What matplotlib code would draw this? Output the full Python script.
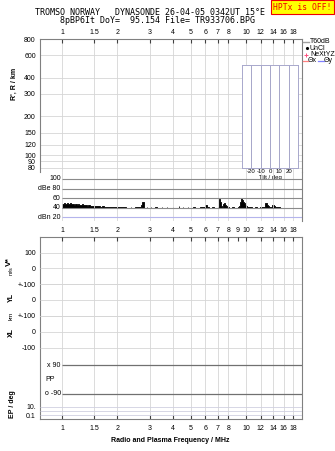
import matplotlib
matplotlib.use('Agg')
import matplotlib.pyplot as plt
from matplotlib.lines import Line2D
from matplotlib.ticker import NullLocator

plt.rcParams['font.family'] = ['Liberation Sans', 'DejaVu Sans']

# --- data -------------------------------------------------------------
title_1 = "TROMSO NORWAY   DYNASONDE 26-04-05 0342UT 15°E"
title_2 = "8pBP6It DoY=  95.154 File= TR933706.BPG"

freq_ticks = [1, 1.5, 2, 3, 4, 5, 6, 7, 8, 10, 12, 14, 16, 18]
freq_ticks_mid = [1, 1.5, 2, 3, 4, 5, 6, 7, 8, 9, 10, 12, 14, 16, 18]
range_ticks = [800, 600, 400, 300, 200, 150, 120, 100, 90, 80]
db_lines = [100, 80, 60, 40]
db_labels = ['100', 'dBe 80', '60', '40']
tilt_ticks = [-20, -10, 0, 10, 20]

noise_freq = [1.00, 1.02, 1.04, 1.06, 1.08, 1.10, 1.12, 1.14, 1.16, 1.18,
              1.20, 1.22, 1.24, 1.26, 1.28, 1.30, 1.33, 1.36, 1.39, 1.42,
              1.45, 1.48, 1.51, 1.55, 1.60, 1.65, 1.70, 1.75, 1.80, 1.85,
              1.90, 1.95, 2.00, 2.06, 2.12, 2.18, 2.24, 2.30, 2.36, 2.42,
              2.48, 2.55, 2.62, 2.68, 2.72, 2.78, 2.82, 2.90, 3.00, 3.06,
              3.12, 3.20, 3.30, 3.40, 3.50, 3.60, 3.70, 3.85, 4.00, 4.15,
              4.30, 4.40, 4.55, 4.70, 4.85, 5.00, 5.15, 5.30, 5.45, 5.60,
              5.75, 5.90, 6.00, 6.10, 6.25, 6.40, 6.55, 6.70, 6.85, 7.00,
              7.10, 7.20, 7.30, 7.40, 7.50, 7.60, 7.70, 7.80, 7.90, 8.05,
              8.20, 8.40, 8.60, 8.80, 9.00, 9.15, 9.25, 9.35, 9.45, 9.55,
              9.65, 9.75, 9.85, 9.95, 10.1, 10.3, 10.5, 10.7, 10.9, 11.1,
              11.3, 11.5, 11.7, 11.9, 12.1, 12.3, 12.5, 12.7, 12.9, 13.1,
              13.3, 13.5, 13.7, 13.9, 14.1, 14.3, 14.5, 14.7, 14.9, 15.1,
              15.3]
noise_db = [48, 49, 47, 50, 48, 49, 47, 48, 46, 47,
            46, 47, 45, 46, 48, 45, 46, 44, 45, 44,
            43, 44, 43, 43, 42, 43, 42, 42, 42, 42,
            42, 41, 42, 41, 42, 41, 42, 40, 41, 40,
            41, 42, 41, 45, 51, 41, 40, 41, 40, 41,
            40, 42, 41, 40, 41, 40, 41, 40, 41, 40,
            43, 40, 41, 40, 41, 40, 41, 41, 40, 41,
            41, 42, 45, 42, 41, 40, 41, 42, 40, 42,
            58, 52, 44, 42, 48, 50, 46, 43, 41, 42,
            40, 41, 41, 40, 42, 44, 52, 60, 59, 56,
            53, 50, 46, 44, 42, 41, 42, 41, 40, 41,
            42, 41, 40, 41, 42, 41, 42, 49, 46, 43,
            41, 42, 41, 45, 43, 42, 41, 42, 41, 41,
            41]

v_ticks = [100, 0, -100]
v_labels = ['100', '0', '']
yl_labels = ['+-100', '0', '+-100']
xl_labels = ['', '0', '-100']
pp_lines = [90, -90]
pp_labels = ['x 90', 'o -90']
ep_ticks = [10, 0.1]
ep_labels = ['10.', '0.1']

# --- layout helpers (pixel boxes) -------------------------------------
W, H = 335, 451
fs = 5
grid_c = '#d6d6d6'
frame_c = '#808080'


def box(x0, y0, x1, y1):
    return [x0 / W, 1 - y1 / H, (x1 - x0) / W, (y1 - y0) / H]


def fxy(x, y):
    return x / W, 1 - y / H


def freq_axis(ax):
    ax.set_xscale('log')
    ax.set_xlim(0.76, 20.1)
    ax.xaxis.set_minor_locator(NullLocator())


def bare(ax):
    ax.patch.set_visible(False)
    for s in ax.spines.values():
        s.set_visible(False)


fig = plt.figure(figsize=(W / 100, H / 100), dpi=100)

fig.text(*fxy(35, 12.5), title_1, family='DejaVu Sans Mono', fontsize=6,
         ha='left', va='center')
fig.text(*fxy(60, 20.5), title_2, family='DejaVu Sans Mono', fontsize=6,
         ha='left', va='center')
fig.text(*fxy(302.5, 7), "HPTx is OFF!", family='DejaVu Sans Mono',
         fontsize=5.8, color='#ee0000', ha='center', va='center',
         bbox=dict(boxstyle='square,pad=0.25', fc='#ffff00', ec='#ee0000',
                   lw=0.8))

# --- top panel: range ---------------------------------------------------
axr = fig.add_axes(box(40, 39, 302, 172))
freq_axis(axr)
axr.set_yscale('log')
axr.set_ylim(74, 800)
axr.set_yticks(range_ticks, [str(v) for v in range_ticks])
axr.yaxis.set_minor_locator(NullLocator())
axr.tick_params(axis='y', length=0, labelsize=fs, pad=3)
axr.set_xticks(freq_ticks, [f'{v:g}' for v in freq_ticks])
axr.xaxis.tick_top()
axr.tick_params(axis='x', direction='in', length=3, labelsize=fs, pad=2.5,
                color='#404040')
axr.grid(True, color=grid_c, lw=0.6)
axr.spines['bottom'].set_visible(False)
for s in ['top', 'left', 'right']:
    axr.spines[s].set_color(frame_c)
fig.text(*fxy(14, 84), "R', R / km", rotation=90, fontsize=fs,
         fontweight='bold', ha='center', va='center')

# tilt inset
axt = fig.add_axes(box(242, 65, 298, 168))
axt.set_xlim(-30, 30)
axt.set_ylim(0, 1)
axt.set_yticks([])
axt.set_xticks(tilt_ticks, [str(v) for v in tilt_ticks])
axt.tick_params(axis='x', length=0, labelsize=4.3, pad=1)
for t in tilt_ticks:
    axt.axvline(t, color='#9898c0', lw=0.6)
for s in axt.spines.values():
    s.set_color('#a8a8cc')
    s.set_linewidth(0.7)
axt.set_xlabel('Tilt / deg', fontsize=4.3, labelpad=0.5)

# --- top panel: dB --------------------------------------------------
axd = fig.add_axes(box(40, 172, 302, 221))
freq_axis(axd)
axd.set_ylim(12.3, 114.6)
axd.set_yticks([])
axd.set_xticks(freq_ticks, [''] * len(freq_ticks))
axd.tick_params(axis='x', length=0)
axd.grid(True, axis='x', color=grid_c, lw=0.6)
axd.patch.set_visible(False)
for s in ['top', 'bottom', 'left']:
    axd.spines[s].set_visible(False)
axd.spines['right'].set_color(frame_c)
axd.hlines(db_lines, 1.0, 20.1, color='#8a8a8a', lw=0.8)
axd.hlines(20, 1.0, 20.1, color='#b4b4ec', lw=0.8)
for v, lab in zip(db_lines, db_labels):
    axd.text(0.985, v, lab, fontsize=fs, ha='right', va='center')
axd.text(0.985, 20, 'dBn 20', fontsize=fs, ha='right', va='center')
above = [v > 40 for v in noise_db]
axd.fill_between(noise_freq, 40, noise_db, where=above, step='post',
                 facecolor='black', edgecolor='black', lw=0.6)

# legend
rows = [41.5, 48, 54.5, 61]
fig.add_artist(Line2D([303 / W, 309 / W], [1 - rows[0] / H] * 2,
                      color='#a0a0a0', lw=1))
fig.text(*fxy(310, rows[0]), 'T60dB', fontsize=fs, va='center')
fig.add_artist(Line2D([306.5 / W], [1 - rows[1] / H], marker='.', ms=2.5,
                      color='black', lw=0))
fig.text(*fxy(310, rows[1]), 'UnCl', fontsize=fs, va='center')
fig.add_artist(Line2D([306 / W], [1 - rows[2] / H], marker='+', ms=3.5,
                      color='#ff5080', lw=0, mew=0.7))
fig.text(*fxy(310, rows[2]), 'NeXtYZ', fontsize=fs, va='center')
fig.add_artist(Line2D([303 / W, 307.5 / W], [1 - rows[3] / H] * 2,
                      color='#ff8080', lw=0.9))
fig.text(*fxy(308, rows[3]), 'Θx', fontsize=fs, va='center')
fig.add_artist(Line2D([318 / W, 323.5 / W], [1 - rows[3] / H] * 2,
                      color='#8080ff', lw=0.9))
fig.text(*fxy(324, rows[3]), 'Θy', fontsize=fs, va='center')

# --- bottom panel ---------------------------------------------------
axb = fig.add_axes(box(40, 237, 302, 419))
freq_axis(axb)
axb.set_yticks([])
axb.set_xticks(freq_ticks, [f'{v:g}' for v in freq_ticks])
axb.tick_params(axis='x', direction='in', length=3, labelsize=fs, pad=4,
                color='#404040')
axb.grid(True, axis='x', color=grid_c, lw=0.6)
for s in axb.spines.values():
    s.set_color(frame_c)
axb2 = axb.twiny()
freq_axis(axb2)
axb2.set_xticks(freq_ticks_mid, [f'{v:g}' for v in freq_ticks_mid])
axb2.tick_params(axis='x', direction='in', length=3, labelsize=fs, pad=2.5,
                 color='#404040')
for s in axb2.spines.values():
    s.set_visible(False)

sections = [(268.3, v_labels), (300, yl_labels), (332, xl_labels)]
for c, labs in sections:
    ax = fig.add_axes(box(40, c - 24, 302, c + 24))
    freq_axis(ax)
    ax.set_ylim(-152, 152)
    bare(ax)
    ax.set_xticks([])
    ax.hlines(v_ticks, 0.76, 20.1, color=grid_c, lw=0.6)
    ax.set_yticks(v_ticks, labs)
    ax.tick_params(axis='y', length=0, labelsize=fs, pad=3)

axp = fig.add_axes(box(40, 356, 302, 403))
freq_axis(axp)
axp.set_ylim(-146, 146)
bare(axp)
axp.set_xticks([])
axp.set_yticks([])
axp.hlines(pp_lines, 1.0, 20.1, color='#707070', lw=0.9)
for v, lab in zip(pp_lines, pp_labels):
    axp.text(0.985, v, lab, fontsize=fs, ha='right', va='center')
axp.text(0.815, 0, 'PP', fontsize=fs, ha='left', va='center')

axe = fig.add_axes(box(40, 403, 302, 419))
freq_axis(axe)
axe.set_yscale('log')
axe.set_ylim(0.0138, 72)
bare(axe)
axe.set_xticks([])
axe.hlines([10, 1, 0.1], 0.76, 20.1, color='#d0d0e0', lw=0.6)
axe.set_yticks(ep_ticks, ep_labels)
axe.yaxis.set_minor_locator(NullLocator())
axe.tick_params(axis='y', length=0, labelsize=fs, pad=3)

fig.text(*fxy(9, 266), 'V*', rotation=90, fontsize=6, fontweight='bold',
         ha='center', va='bottom')
fig.text(*fxy(11, 266), 'm/s', rotation=90, fontsize=4, ha='center',
         va='top')
fig.text(*fxy(11, 297), 'YL', rotation=90, fontsize=fs, fontweight='bold',
         ha='center', va='center')
fig.text(*fxy(11, 316), 'km', rotation=90, fontsize=4.5, ha='center',
         va='center')
fig.text(*fxy(11, 333), 'XL', rotation=90, fontsize=fs, fontweight='bold',
         ha='center', va='center')
fig.text(*fxy(12, 404), 'EP / deg', rotation=90, fontsize=fs,
         fontweight='bold', ha='center', va='center')
fig.text(*fxy(170, 440), 'Radio and Plasma Frequency / MHz', fontsize=fs,
         fontweight='bold', ha='center', va='center')

fig.savefig('out.png', dpi=100)
